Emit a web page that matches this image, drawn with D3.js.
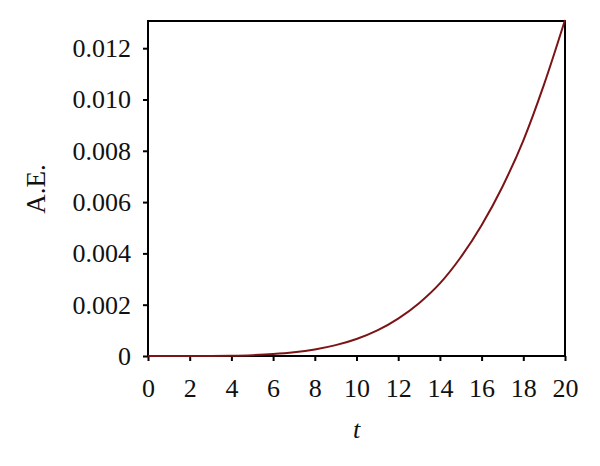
<!DOCTYPE html>
<html>
<head>
<meta charset="utf-8">
<script src="https://cdn.jsdelivr.net/npm/d3@7"></script>
<style>
  body { margin: 0; background: #fff; }
  text { font-family: "Liberation Serif", "Times New Roman", serif; fill: #111; }
</style>
</head>
<body>
<svg id="chart" width="600" height="466"></svg>
<script>
// values
var tValues = [0, 1, 2, 3, 4, 5, 6, 7, 8, 9, 10, 11, 12, 13, 14, 15, 16, 17, 18, 19, 20];
var aeValues = [0, 0.00000003, 0.0000007, 0.0000038, 0.000013, 0.000034, 0.000074, 0.000143, 0.000255, 0.000423,
                0.000665, 0.001, 0.00146, 0.00206, 0.00283, 0.00385, 0.0051, 0.0066, 0.0084, 0.0106, 0.0131];
var xTicks = [0, 2, 4, 6, 8, 10, 12, 14, 16, 18, 20];
var yTicks = [0, 0.002, 0.004, 0.006, 0.008, 0.010, 0.012];

var svg = d3.select("#chart");
var margin = {left: 148, right: 35, top: 21, bottom: 110};
var width = 600 - margin.left - margin.right,
    height = 466 - margin.top - margin.bottom;

var x = d3.scaleLinear().domain([0, 20]).range([0, width]);
var y = d3.scaleLinear().domain([0, 0.01306]).range([height, 0]);

var g = svg.append("g").attr("transform", "translate(" + margin.left + "," + margin.top + ")");

// frame
g.append("rect")
    .attr("width", width).attr("height", height)
    .attr("fill", "none").attr("stroke", "#000").attr("stroke-width", 2);

var xAxis = g.append("g")
    .attr("transform", "translate(0," + height + ")")
    .call(d3.axisBottom(x).tickValues(xTicks).tickSize(5).tickPadding(18).tickFormat(d3.format("d")));
xAxis.select(".domain").remove();
xAxis.selectAll("line").attr("stroke-width", 2);
xAxis.selectAll("text").attr("font-size", 26);

var yAxis = g.append("g")
    .call(d3.axisLeft(y).tickValues(yTicks).tickSize(5).tickPadding(12)
        .tickFormat(function(d) { return d === 0 ? "0" : d3.format(".3f")(d); }));
yAxis.select(".domain").remove();
yAxis.selectAll("line").attr("stroke-width", 2);
yAxis.selectAll("text").attr("font-size", 26);

var line = d3.line()
    .x(function(d, i) { return x(tValues[i]); })
    .y(function(d) { return y(d); })
    .curve(d3.curveMonotoneX);

g.append("path")
    .datum(aeValues)
    .attr("d", line)
    .attr("fill", "none")
    .attr("stroke", "#7b1416")
    .attr("stroke-width", 2);

svg.append("text")
    .attr("x", margin.left + width / 2)
    .attr("y", 438)
    .attr("text-anchor", "middle")
    .attr("font-size", 26)
    .attr("font-style", "italic")
    .text("t");

svg.append("text")
    .attr("transform", "translate(45,189) rotate(-90)")
    .attr("text-anchor", "middle")
    .attr("font-size", 27)
    .text("A.E.");
</script>
</body>
</html>
